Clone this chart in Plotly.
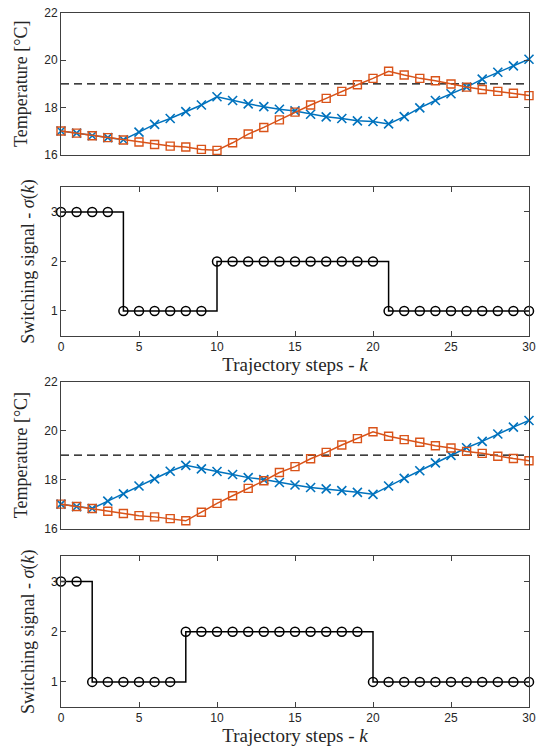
import plotly.graph_objects as go

k = list(range(31))

temp_a_blue = [17.0, 16.91, 16.8, 16.72, 16.63, 16.95, 17.28, 17.53, 17.82, 18.1, 18.45,
               18.29, 18.15, 18.03, 17.92, 17.85, 17.71, 17.6, 17.53, 17.43, 17.4,
               17.3, 17.61, 17.98, 18.29, 18.58, 18.86, 19.2, 19.49, 19.76, 20.04]
temp_a_orange = [17.0, 16.91, 16.8, 16.72, 16.62, 16.53, 16.43, 16.36, 16.32, 16.22, 16.18,
                 16.5, 16.87, 17.15, 17.47, 17.8, 18.1, 18.38, 18.68, 18.96, 19.23,
                 19.53, 19.37, 19.23, 19.13, 18.99, 18.86, 18.76, 18.68, 18.6, 18.5]
sigma_a = [3, 3, 3, 3, 1, 1, 1, 1, 1, 1, 2, 2, 2, 2, 2, 2, 2, 2, 2, 2, 2,
           1, 1, 1, 1, 1, 1, 1, 1, 1, 1]

temp_b_blue = [17.0, 16.9, 16.82, 17.12, 17.42, 17.74, 18.03, 18.34, 18.58, 18.44, 18.33,
               18.21, 18.08, 18.0, 17.88, 17.78, 17.68, 17.62, 17.55, 17.48, 17.4,
               17.74, 18.05, 18.36, 18.68, 18.99, 19.3, 19.56, 19.86, 20.14, 20.41]
temp_b_orange = [17.0, 16.9, 16.82, 16.71, 16.62, 16.53, 16.48, 16.41, 16.32, 16.67, 17.03,
                 17.34, 17.64, 17.95, 18.29, 18.53, 18.85, 19.11, 19.41, 19.67, 19.95,
                 19.77, 19.63, 19.52, 19.38, 19.29, 19.15, 19.07, 18.95, 18.86, 18.77]
sigma_b = [3, 3, 1, 1, 1, 1, 1, 1, 2, 2, 2, 2, 2, 2, 2, 2, 2, 2, 2, 2,
           1, 1, 1, 1, 1, 1, 1, 1, 1, 1, 1]

setpoint = 19
temp_ticks = [16, 18, 20, 22]
sigma_ticks = [1, 2, 3]
k_ticks = [0, 5, 10, 15, 20, 25, 30]

BLUE = "#0072BD"
ORANGE = "#D95319"
AX = "#404040"
TICKFONT = dict(family="Liberation Sans, Arial", size=12, color="#262626")
YTITLEFONT = dict(family="Liberation Serif", size=18, color="#262626")
XTITLEFONT = dict(family="Liberation Serif", size=19, color="#262626")

fig = go.Figure()

domains = [(0.796, 1.0), (0.535, 0.749), (0.257, 0.469), (0.0, 0.217)]
datasets = [("temp", temp_a_blue, temp_a_orange), ("sig", sigma_a),
            ("temp", temp_b_blue, temp_b_orange), ("sig", sigma_b)]

for i, d in enumerate(datasets):
    n = i + 1
    xa = "x" if n == 1 else f"x{n}"
    ya = "y" if n == 1 else f"y{n}"
    if d[0] == "temp":
        fig.add_trace(go.Scatter(x=[k[0], k[-1]], y=[setpoint, setpoint], mode="lines",
                                 line=dict(color="black", width=1.2, dash="8px,5px"),
                                 xaxis=xa, yaxis=ya, showlegend=False, hoverinfo="skip"))
        fig.add_trace(go.Scatter(x=k, y=d[1], mode="lines+markers",
                                 line=dict(color=BLUE, width=1.5),
                                 marker=dict(symbol="x-thin-open", size=9, color=BLUE,
                                             line=dict(color=BLUE, width=1.6)),
                                 cliponaxis=False, xaxis=xa, yaxis=ya, showlegend=False))
        fig.add_trace(go.Scatter(x=k, y=d[2], mode="lines+markers",
                                 line=dict(color=ORANGE, width=1.5),
                                 marker=dict(symbol="square-open", size=8, color=ORANGE,
                                             line=dict(color=ORANGE, width=1.4)),
                                 cliponaxis=False, xaxis=xa, yaxis=ya, showlegend=False))
    else:
        fig.add_trace(go.Scatter(x=k, y=d[1], mode="lines+markers",
                                 line=dict(color="black", width=1.5, shape="hv"),
                                 marker=dict(symbol="circle-open", size=9, color="black",
                                             line=dict(color="black", width=1.5)),
                                 cliponaxis=False, xaxis=xa, yaxis=ya, showlegend=False))

    is_temp = d[0] == "temp"
    xaxis = dict(domain=[0, 1], range=[0, 30], anchor=ya, showline=True, mirror=True,
                 linecolor=AX, linewidth=1, showgrid=False, zeroline=False,
                 tickfont=TICKFONT)
    if is_temp:
        xaxis.update(showticklabels=False, ticks="")
    else:
        xaxis.update(tickvals=k_ticks, ticks="inside", ticklen=5, tickcolor=AX,
                     mirror="ticks",
                     title=dict(text="Trajectory steps - <i>k</i>", font=XTITLEFONT, standoff=4))
    yaxis = dict(domain=list(domains[i]), anchor=xa, showline=True, mirror="ticks",
                 linecolor=AX, linewidth=1, showgrid=False, zeroline=False,
                 ticks="inside", ticklen=5, tickcolor=AX, tickfont=TICKFONT)
    if is_temp:
        yaxis.update(range=[16, 22], tickvals=temp_ticks,
                     title=dict(text="Temperature [°C]", font=YTITLEFONT, standoff=11))
    else:
        yaxis.update(range=[0.5, 3.5], tickvals=sigma_ticks,
                     title=dict(text="Switching signal - <i>σ</i>(<i>k</i>)", font=YTITLEFONT,
                                standoff=11))
    fig.layout[f"xaxis{'' if n == 1 else n}"] = xaxis
    fig.layout[f"yaxis{'' if n == 1 else n}"] = yaxis

fig.update_layout(width=542, height=756, margin=dict(l=61, r=12, t=6, b=49),
                  plot_bgcolor="white", paper_bgcolor="white", showlegend=False)

fig.write_html("out.html")
